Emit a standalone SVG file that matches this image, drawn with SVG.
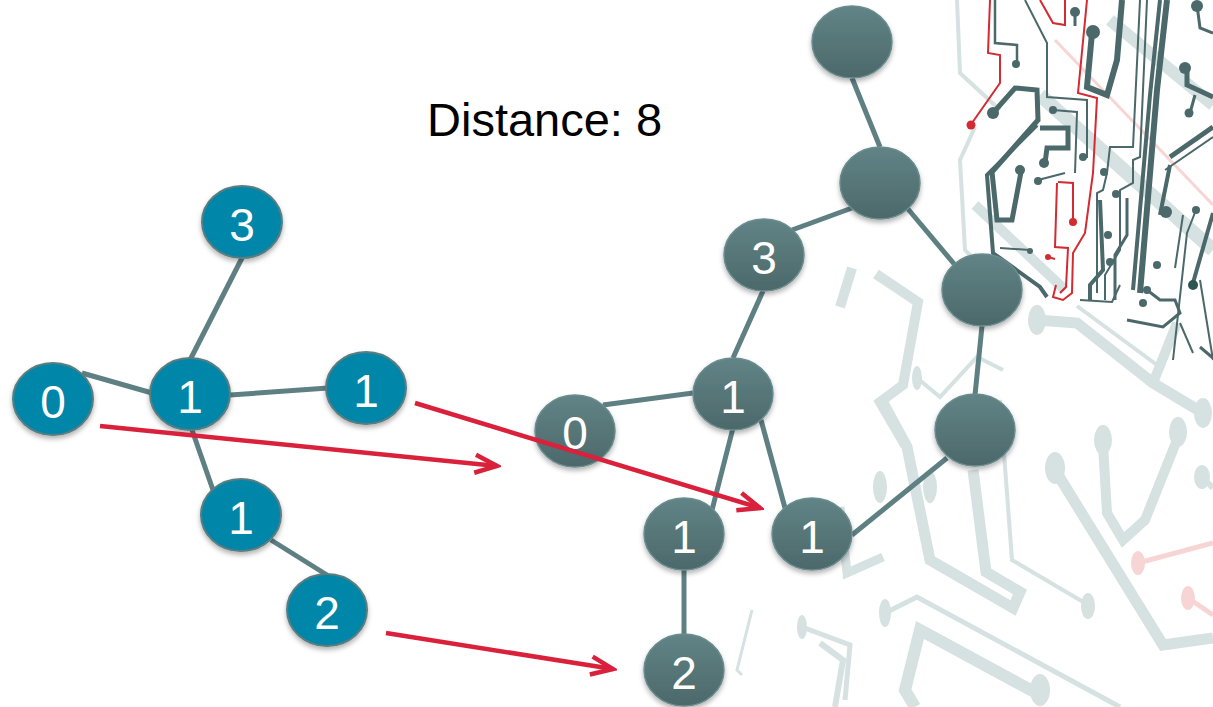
<svg xmlns="http://www.w3.org/2000/svg" width="1213" height="707" viewBox="0 0 1213 707">
  <defs>
    <style>
      .lt { fill: none; stroke: #d6e1e1; stroke-linejoin: miter; }
      .ltf { fill: #d6e1e1; }
      .pk { fill: none; stroke: #f8d5d5; }
      .pkf { fill: #f8d5d5; }
      .dk { fill: none; stroke: #4b686a; stroke-linejoin: miter; }
      .dkf { fill: #4b686a; }
      .rd { fill: none; stroke: #d42a32; stroke-width: 2; }
      .rdf { fill: #d42a32; }
      .edge { stroke: #5f8083; stroke-width: 5; fill: none; }
      .map { stroke: #d9213b; stroke-width: 4.5; fill: none; marker-end: url(#chevron); }
      .pat { fill: #0086a8; stroke: #5b7d80; stroke-width: 2; filter: url(#shadow); }
      .tgt { fill: url(#slate); stroke: #6a8c8e; stroke-width: 1.5; filter: url(#shadow); }
      .lbl { font-family: "Liberation Sans", Arial, sans-serif; font-size: 46px; fill: #ffffff; text-anchor: middle; }
      .title { font-family: "Liberation Sans", Arial, sans-serif; font-size: 47px; fill: #000000; }
    </style>
    <linearGradient id="slate" x1="0" y1="0" x2="0" y2="1">
      <stop offset="0" stop-color="#618486"/>
      <stop offset="1" stop-color="#4c686a"/>
    </linearGradient>
    <filter id="shadow" x="-30%" y="-30%" width="160%" height="170%">
      <feDropShadow dx="0" dy="3" stdDeviation="2.5" flood-color="#000000" flood-opacity="0.3"/>
    </filter>
    <marker id="chevron" markerUnits="userSpaceOnUse" viewBox="-26 -13 30 26" refX="0" refY="0" markerWidth="30" markerHeight="26" orient="auto">
      <path d="M-22,-9 L0,0 L-22,9" fill="none" stroke="#d9213b" stroke-width="4.5"/>
    </marker>
  </defs>

  <rect x="0" y="0" width="1213" height="707" fill="#ffffff"/>

  <!-- circuit-board backdrop, pale traces -->
  <g id="circuit-pale">
    <path class="lt" stroke-width="14" d="M1040,95 L1213,250"/>
    <path class="lt" stroke-width="12" d="M1110,20 L1213,105"/>
    <path class="lt" stroke-width="10" d="M975,205 L1065,290"/>
    <path class="lt" stroke-width="4" d="M957,0 L960,73 L1000,110"/>
    <path class="lt" stroke-width="4" d="M975,127 L960,160 L965,250 L990,275"/>
    <path class="pk" stroke-width="3" d="M1055,40 L1213,205"/>

    <path class="lt" stroke-width="11" d="M1037,320 L1077,323 L1153,383 L1203,413"/>
    <ellipse class="ltf" cx="1037" cy="320" rx="9" ry="15"/>
    <ellipse class="ltf" cx="1203" cy="413" rx="9" ry="15"/>
    <path class="lt" stroke-width="4" d="M1077,306 L1157,365"/>
    <path class="lt" stroke-width="10" d="M1153,383 L1177,323"/>

    <path class="lt" stroke-width="10" d="M852,268 L840,307"/>
    <path class="lt" stroke-width="10" d="M876,274 L918,302 L903,385 L880,402 L905,445"/>
    <ellipse class="ltf" cx="917" cy="378" rx="5" ry="12"/>
    <path class="lt" stroke-width="4" d="M917,378 L940,397 L977,357 L1003,370"/>

    <path class="lt" stroke-width="11" d="M880,397 L907,447 L930,560 L1013,608 L1020,592 L986,572 L973,470"/>
    <path class="lt" stroke-width="4" d="M1000,400 L1012,560 L1085,603"/>
    <ellipse class="ltf" cx="1088" cy="606" rx="7" ry="13"/>
    <ellipse class="ltf" cx="880" cy="487" rx="7" ry="16"/>
    <ellipse class="ltf" cx="930" cy="487" rx="7" ry="16"/>
    <path class="lt" stroke-width="9" d="M840,507 L847,573 L883,557"/>

    <ellipse class="ltf" cx="1055" cy="468" rx="10" ry="16"/>
    <path class="lt" stroke-width="11" d="M1055,470 L1163,645 L1213,638"/>
    <ellipse class="ltf" cx="1103" cy="440" rx="9" ry="15"/>
    <ellipse class="ltf" cx="1178" cy="432" rx="9" ry="15"/>
    <path class="lt" stroke-width="10" d="M1103,445 L1107,513 L1123,540 L1145,520 L1177,440"/>
    <ellipse class="ltf" cx="1202" cy="477" rx="8" ry="12"/>
    <path class="lt" stroke-width="6" d="M1202,477 L1213,488"/>

    <ellipse class="pkf" cx="1138" cy="563" rx="7" ry="12"/>
    <path class="pk" stroke-width="5" d="M1138,563 L1213,543"/>
    <ellipse class="pkf" cx="1188" cy="598" rx="7" ry="12"/>
    <path class="pk" stroke-width="5" d="M1188,598 L1213,615"/>

    <ellipse class="ltf" cx="885" cy="613" rx="6" ry="14"/>
    <path class="lt" stroke-width="5" d="M885,613 L917,597 L1120,707"/>
    <path class="lt" stroke-width="12" d="M1040,695 L920,630 L905,690 L915,707"/>
    <ellipse class="ltf" cx="1040" cy="690" rx="10" ry="16"/>
    <path class="lt" stroke-width="6" d="M820,643 L843,660 L835,707"/>
    <ellipse class="ltf" cx="802" cy="627" rx="5" ry="12"/>
    <path class="lt" stroke-width="5" d="M802,627 L850,645 L845,700"/>
    <path class="lt" stroke-width="3" d="M752,610 L737,670 L742,675"/>
  </g>

  <!-- circuit-board backdrop, dark traces -->
  <g id="circuit-dark">
    <path class="dk" stroke-width="2.5" d="M995,0 L995,43 L1017,45 L1017,63"/>
    <circle class="dkf" cx="1016" cy="64" r="4"/>
    <path class="rd" d="M990,0 L988,53 L1000,55 L1000,83 L972,123"/>
    <circle class="rdf" cx="971" cy="125" r="4.5"/>
    <path class="dk" stroke-width="5" d="M993,113 L1015,88 L1037,90 L1038,120 L992,172 L997,220 L1012,220 L1021,172"/>
    <circle class="dkf" cx="993" cy="113" r="6"/>
    <circle class="dkf" cx="1020" cy="170" r="5"/>
    <path class="dk" stroke-width="5" d="M1040,128 L1068,128 L1068,148 L1047,148 L1045,163"/>
    <circle class="dkf" cx="1044" cy="163" r="5"/>
    <path class="dk" stroke-width="4" d="M1037,125 L987,175 L993,253 L1040,287 L1047,297"/>
    <path class="dk" stroke-width="2" d="M1000,248 L1030,250"/>
    <circle class="dkf" cx="1030" cy="251" r="3"/>
    <path class="dk" stroke-width="2" d="M1025,0 L1047,43 L1047,97 L1087,100 L1087,158"/>
    <circle class="dkf" cx="1083" cy="157" r="4"/>
    <path class="rd" d="M1040,0 L1053,23 L1065,25 L1065,0"/>
    <path class="rd" d="M1087,0 L1078,93 L1097,98 L1093,173 L1085,233 L1073,253 L1072,293 L1063,300 L1053,297 L1056,285"/>
    <path class="rd" d="M1058,182 L1073,183 L1073,221"/>
    <circle class="rdf" cx="1073" cy="222" r="4"/>
    <path class="rd" d="M1057,183 L1055,247 L1068,248 L1066,287 L1060,293"/>
    <circle class="rdf" cx="1048" cy="257" r="3"/>
    <path class="rd" d="M1048,257 L1055,259"/>
    <path class="dk" stroke-width="3" d="M1075,12 L1075,26"/>
    <circle class="dkf" cx="1075" cy="12" r="5"/>
    <path class="dk" stroke-width="6" d="M1092,33 L1087,87 L1107,95 L1117,60 L1122,0"/>
    <circle class="dkf" cx="1093" cy="32" r="7"/>
    <path class="dk" stroke-width="2" d="M1053,110 L1077,112 L1075,173"/>
    <circle class="dkf" cx="1053" cy="110" r="4"/>
    <path class="dk" stroke-width="2" d="M1038,180 L1065,173"/>
    <circle class="dkf" cx="1038" cy="181" r="4"/>
    <path class="dk" stroke-width="2" d="M1140,0 L1133,147 L1110,147 L1107,173 L1103,190 L1097,193 L1097,293"/>
    <path class="dk" stroke-width="2" d="M1147,0 L1140,157 L1133,160 L1133,183 L1120,190 L1120,250 L1105,275 L1105,300"/>
    <circle class="dkf" cx="1104" cy="172" r="4"/>
    <circle class="dkf" cx="1116" cy="194" r="4"/>
    <path class="dk" stroke-width="6" d="M1167,0 L1157,90 L1140,293"/>
    <path class="dk" stroke-width="4" d="M1160,0 L1150,95 L1133,290"/>
    <path class="dk" stroke-width="3" d="M1127,198 L1127,235 L1115,255 L1115,300"/>
    <path class="dk" stroke-width="4" d="M1100,200 L1103,270 L1090,285 L1090,300"/>
    <circle class="dkf" cx="1108" cy="235" r="4"/>
    <circle class="dkf" cx="1110" cy="262" r="4"/>
    <path class="dk" stroke-width="5" d="M1187,67 L1187,85 L1213,97"/>
    <circle class="dkf" cx="1185" cy="68" r="6"/>
    <path class="dk" stroke-width="3" d="M1190,113 L1195,95"/>
    <circle class="dkf" cx="1189" cy="113" r="4.5"/>
    <path class="dk" stroke-width="3" d="M1197,5 L1200,28 L1213,33"/>
    <circle class="dkf" cx="1197" cy="6" r="6"/>
    <path class="dk" stroke-width="5" d="M1170,157 L1213,127"/>
    <path class="dk" stroke-width="2" d="M1165,170 L1213,137"/>
    <path class="dk" stroke-width="4" d="M1160,215 L1170,165"/>
    <circle class="dkf" cx="1166" cy="212" r="6"/>
    <path class="dk" stroke-width="2" d="M1196,210 L1187,233 L1173,360"/>
    <circle class="dkf" cx="1196" cy="210" r="4"/>
    <path class="dk" stroke-width="4" stroke="#2f5552" d="M1213,213 L1193,283"/>
    <circle cx="1193" cy="285" r="5" fill="#2f5552"/>
    <path class="dk" stroke-width="2" d="M1183,215 L1175,268"/>
    <circle class="dkf" cx="1157" cy="265" r="4"/>
    <path class="dk" stroke-width="3" d="M1147,290 L1160,300 L1175,300 L1180,313 L1163,327 L1127,320"/>
    <circle class="dkf" cx="1147" cy="290" r="4"/>
    <circle class="dkf" cx="1143" cy="303" r="4"/>
    <path class="dk" stroke-width="2" d="M1080,300 L1112,302 L1120,285"/>
    <path class="dk" stroke-width="2" d="M1180,323 L1193,353"/>
    <path class="dk" stroke-width="2" d="M1200,280 L1213,360"/>
    <path class="dk" stroke-width="3" d="M1200,347 L1213,358"/>
  </g>

  <!-- graph edges -->
  <g id="connectors">
    <g id="edges">
      <line class="edge" x1="242" y1="258" x2="190" y2="360"/>
      <line class="edge" x1="82" y1="373" x2="152" y2="393"/>
      <line class="edge" x1="230" y1="395" x2="328" y2="388"/>
      <line class="edge" x1="192" y1="430" x2="213" y2="490"/>
      <line class="edge" x1="271" y1="540" x2="327" y2="575"/>

      <line class="edge" x1="852" y1="78" x2="880" y2="147"/>
      <line class="edge" x1="852" y1="208" x2="792" y2="230"/>
      <line class="edge" x1="908" y1="209" x2="955" y2="265"/>
      <line class="edge" x1="982" y1="326" x2="975" y2="395"/>
      <line class="edge" x1="947" y1="458" x2="852" y2="535"/>
      <line class="edge" x1="763" y1="291" x2="733" y2="358"/>
      <line class="edge" x1="603" y1="405" x2="693" y2="393"/>
      <line class="edge" x1="733" y1="428" x2="712" y2="510"/>
      <line class="edge" x1="761" y1="420" x2="785" y2="508"/>
      <line class="edge" x1="684" y1="570" x2="684" y2="636"/>
    </g>
  </g>

  <!-- pattern graph (left) -->
  <g id="p3"><ellipse class="pat" cx="242" cy="222" rx="40" ry="36"/><text class="lbl" x="242" y="241">3</text></g>
  <g id="p0"><ellipse class="pat" cx="53" cy="399" rx="40" ry="36"/><text class="lbl" x="53" y="418">0</text></g>
  <g id="p1a"><ellipse class="pat" cx="190" cy="394" rx="40" ry="36"/><text class="lbl" x="190" y="413">1</text></g>
  <g id="p1b"><ellipse class="pat" cx="366" cy="388" rx="40" ry="36"/><text class="lbl" x="366" y="407">1</text></g>
  <g id="p1c"><ellipse class="pat" cx="241" cy="515" rx="40" ry="36"/><text class="lbl" x="241" y="534">1</text></g>
  <g id="p2"><ellipse class="pat" cx="327" cy="610" rx="40" ry="36"/><text class="lbl" x="327" y="629">2</text></g>

  <!-- target graph (right) -->
  <g id="tTop"><ellipse class="tgt" cx="852" cy="42" rx="40" ry="36"/></g>
  <g id="tHub"><ellipse class="tgt" cx="880" cy="183" rx="40" ry="36"/></g>
  <g id="t3"><ellipse class="tgt" cx="764" cy="255" rx="40" ry="36"/><text class="lbl" x="764" y="274">3</text></g>
  <g id="tRight"><ellipse class="tgt" cx="982" cy="290" rx="40" ry="36"/></g>
  <g id="tLow"><ellipse class="tgt" cx="975" cy="430" rx="40" ry="36"/></g>
  <g id="t1a"><ellipse class="tgt" cx="733" cy="394" rx="40" ry="36"/><text class="lbl" x="733" y="413">1</text></g>
  <g id="t0"><ellipse class="tgt" cx="575" cy="431" rx="40" ry="36"/><text class="lbl" x="575" y="449">0</text></g>
  <g id="t1b"><ellipse class="tgt" cx="684" cy="534" rx="40" ry="36"/><text class="lbl" x="684" y="553">1</text></g>
  <g id="t1c"><ellipse class="tgt" cx="812" cy="534" rx="40" ry="36"/><text class="lbl" x="812" y="553">1</text></g>
  <g id="t2"><ellipse class="tgt" cx="684" cy="670" rx="40" ry="36"/><text class="lbl" x="684" y="689">2</text></g>

  <!-- vertex mapping arrows -->
  <g id="mapping-arrows">
    <line class="map" x1="100" y1="426" x2="497" y2="466"/>
    <line class="map" x1="415" y1="403" x2="760" y2="508"/>
    <line class="map" x1="386" y1="633" x2="613" y2="669"/>
  </g>

  <text class="title" x="427" y="136">Distance: 8</text>
</svg>
